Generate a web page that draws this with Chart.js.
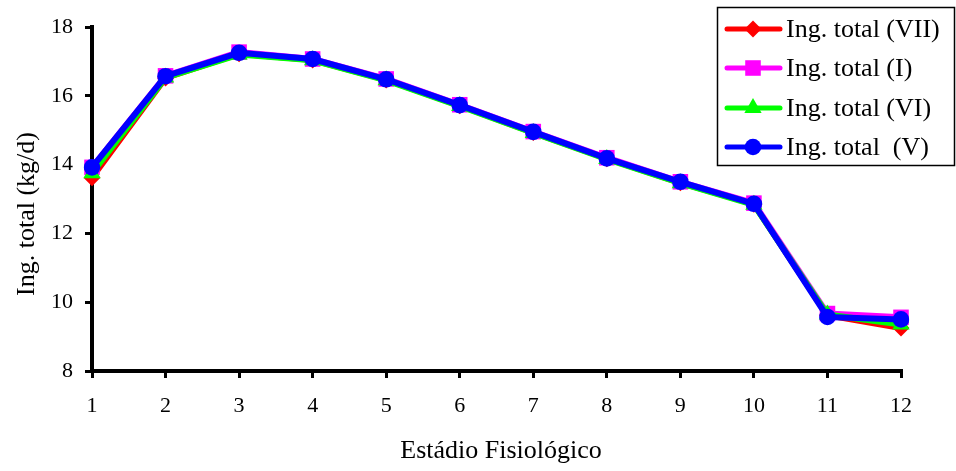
<!DOCTYPE html>
<html>
<head>
<meta charset="utf-8">
<script src="https://cdn.jsdelivr.net/npm/chart.js@4/dist/chart.umd.min.js"></script>
<style>
html,body{margin:0;padding:0;background:#fff;}
canvas{display:block;}
</style>
</head>
<body>
<canvas id="c" width="956" height="471"></canvas>
<script>
const categories = ['1','2','3','4','5','6','7','8','9','10','11','12'];
const seriesNames = ['Ing. total (VII)', 'Ing. total (I)', 'Ing. total (VI)', 'Ing. total  (V)'];
const ingVII = [13.62, 16.52, 17.22, 17.04, 16.46, 15.71, 14.93, 14.17, 13.47, 12.85, 9.62, 9.25];
const ingI   = [13.92, 16.58, 17.27, 17.07, 16.49, 15.74, 14.96, 14.2, 13.5, 12.88, 9.67, 9.56];
const ingVI  = [13.75, 16.53, 17.2, 17.03, 16.45, 15.7, 14.92, 14.16, 13.46, 12.83, 9.64, 9.35];
const ingV   = [13.92, 16.57, 17.25, 17.07, 16.48, 15.73, 14.95, 14.18, 13.5, 12.86, 9.57, 9.5];
const yTicks = [8, 10, 12, 14, 16, 18];
const xTitle = 'Estádio Fisiológico';
const yTitle = 'Ing. total (kg/d)';

const colors = ['#ff0000', '#ff00ff', '#00ff00', '#0000ff'];
const styles = ['rectRot', 'rect', 'triangle', 'circle'];
const radii = [8.5, 11, 10, 8.3];
const dataAll = [ingVII, ingI, ingVI, ingV];

const datasets = dataAll.map((d, i) => ({
  label: seriesNames[i],
  data: d,
  borderColor: colors[i],
  backgroundColor: colors[i],
  borderWidth: 6,
  pointStyle: styles[i],
  pointRadius: radii[i],
  pointBorderWidth: 0,
  tension: 0,
  order: 4 - i
}));

const serif = '"Liberation Serif", "Times New Roman", serif';

const extrasPlugin = {
  id: 'extras',
  afterDraw(chart) {
    const ctx = chart.ctx;
    ctx.save();
    ctx.fillStyle = '#000';
    ctx.font = '26px ' + serif;
    ctx.textAlign = 'center';
    ctx.textBaseline = 'middle';
    ctx.fillText(xTitle, 501, 451);
    ctx.save();
    ctx.translate(27, 214);
    ctx.rotate(-Math.PI / 2);
    ctx.fillText(yTitle, 0, 0);
    ctx.restore();
    const x0 = 717, y0 = 7, w = 238, h = 159;
    ctx.fillStyle = '#fff';
    ctx.fillRect(x0, y0, w, h);
    ctx.strokeStyle = '#000';
    ctx.lineWidth = 1.5;
    ctx.strokeRect(x0 + 0.5, y0 + 0.5, w - 1, h - 1);
    const rows = [29, 68, 108, 147];
    chart.data.datasets.forEach((ds, i) => {
      const y = rows[i];
      ctx.strokeStyle = ds.borderColor;
      ctx.lineWidth = 5;
      ctx.lineCap = 'round';
      ctx.beginPath();
      ctx.moveTo(727, y);
      ctx.lineTo(780, y);
      ctx.stroke();
      ctx.fillStyle = ds.backgroundColor;
      ctx.strokeStyle = ds.backgroundColor;
      Chart.helpers.drawPoint(ctx, {pointStyle: ds.pointStyle, radius: ds.pointRadius, borderWidth: 0}, 753, y);
      ctx.fillStyle = '#000';
      ctx.font = '26px ' + serif;
      ctx.textBaseline = 'middle';
      ctx.textAlign = 'left';
      ctx.fillText(ds.label, 786, y + 1);
    });
    ctx.restore();
  }
};

new Chart(document.getElementById('c'), {
  type: 'line',
  data: { labels: categories, datasets: datasets },
  options: {
    responsive: false,
    animation: false,
    layout: { padding: { left: 0, top: 27, right: 55, bottom: 0 } },
    plugins: { legend: { display: false }, tooltip: { enabled: false } },
    scales: {
      x: {
        offset: false,
        grid: { drawOnChartArea: false, drawTicks: true, tickLength: 7, color: '#000', lineWidth: 3 },
        border: { display: true, color: '#000', width: 4 },
        ticks: { color: '#000', font: { family: serif, size: 22 }, padding: 15, maxRotation: 0 },
        title: { display: false },
        afterFit(scale) { scale.height = 100; }
      },
      y: {
        min: 8, max: 18,
        afterBuildTicks(scale) { scale.ticks = yTicks.map(v => ({ value: v })); },
        grid: { drawOnChartArea: false, drawTicks: true, tickLength: 7, color: '#000', lineWidth: 3 },
        border: { display: true, color: '#000', width: 4 },
        ticks: { color: '#000', font: { family: serif, size: 22 }, padding: 12 },
        title: { display: false },
        afterFit(scale) { scale.width = 92; }
      }
    }
  },
  plugins: [extrasPlugin]
});
</script>
</body>
</html>
